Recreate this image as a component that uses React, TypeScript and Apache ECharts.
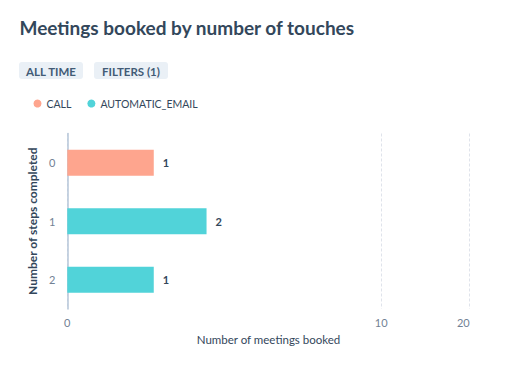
import React, { useEffect, useRef } from "react";
import * as echarts from "echarts";

// ---- data ----
const CATEGORIES = ["0", "1", "2"];
const CALL = [1, null, null];
const AUTOMATIC_EMAIL = [null, 2, 1];
const X_TICKS = [0, 10, 20];
const TITLE = "Meetings booked by number of touches";
const TAGS = ["ALL TIME", "FILTERS (1)"];

// the reference x axis is compressed (log-like): position ~ ln(1 + v / C)
const C = 1.15;
const toAxis = (v: number) => Math.log1p(v / C);
const fromAxis = (a: number) => Math.round(C * Math.expm1(a));

const FONT = "Lato, 'Open Sans', sans-serif";
const DARK = "#33475b";
const GRAY = "#728194";

export default function App() {
  const ref = useRef<HTMLDivElement>(null);
  useEffect(() => {
    if (!ref.current) return;
    const chart = echarts.init(ref.current, null, { renderer: "svg" });
    const mk = (arr: (number | null)[]) => arr.map((v) => (v == null ? "-" : toAxis(v)));
    const lbl = (arr: (number | null)[]) => ({
      show: true,
      position: "right",
      distance: 9,
      fontFamily: FONT,
      fontWeight: "bold",
      fontSize: 11,
      color: DARK,
      formatter: (p: any) => String(arr[p.dataIndex]),
    });
    const tickVals = X_TICKS.map(toAxis);
    const tag = (text: string, left: number, width: number) => ({
      type: "group",
      left,
      top: 62,
      children: [
        { type: "rect", shape: { x: 0, y: 0, width, height: 17, r: 3 }, style: { fill: "#eaf0f6" } },
        {
          type: "text",
          x: width / 2,
          y: 9,
          style: { text, align: "center", verticalAlign: "middle", font: `bold 11.5px ${FONT}`, fill: "#425b76" },
        },
      ],
    });
    chart.setOption({
      animation: false,
      textStyle: { fontFamily: FONT },
      title: {
        text: TITLE,
        left: 14.5,
        top: 12.5,
        textStyle: { fontFamily: FONT, fontSize: 19, fontWeight: "bold", color: DARK },
      },
      legend: {
        left: 28.5,
        top: 93,
        icon: "circle",
        itemWidth: 8,
        itemHeight: 8,
        itemGap: 16,
        textStyle: { fontFamily: FONT, fontSize: 10.5, color: DARK },
        data: ["CALL", "AUTOMATIC_EMAIL"],
      },
      graphic: [tag(TAGS[0], 19, 64), tag(TAGS[1], 94, 74)],
      grid: { left: 67.3, right: 47.3, top: 133.5, bottom: 69.1, containLabel: false },
      xAxis: {
        type: "value",
        min: 0,
        max: toAxis(X_TICKS[X_TICKS.length - 1]),
        name: "Number of meetings booked",
        nameLocation: "middle",
        nameGap: 25,
        nameTextStyle: { fontFamily: FONT, fontSize: 11.5, color: DARK },
        axisLine: { show: false },
        axisTick: { show: false, customValues: tickVals },
        axisLabel: {
          customValues: tickVals,
          formatter: (v: number) => String(fromAxis(v)),
          fontFamily: FONT,
          fontSize: 11,
          color: GRAY,
          margin: 8,
          alignMaxLabel: "right",
        },
        splitLine: { show: true, lineStyle: { color: "#dfe3eb", type: [3, 2], width: 1 } },
      },
      yAxis: {
        type: "category",
        inverse: true,
        data: CATEGORIES,
        name: "Number of steps completed",
        nameLocation: "middle",
        nameGap: 21,
        nameRotate: 90,
        nameTextStyle: { fontFamily: FONT, fontSize: 12, fontWeight: "bold", color: DARK },
        axisLine: { show: true, lineStyle: { color: "#b6c6d8", width: 1.5 } },
        axisTick: { show: false },
        axisLabel: { fontFamily: FONT, fontSize: 11, color: GRAY, margin: 12 },
        splitLine: { show: false },
      },
      series: [
        {
          name: "CALL",
          type: "bar",
          data: mk(CALL),
          barWidth: 26,
          barGap: "-100%",
          itemStyle: { color: "#fea58e" },
          label: lbl(CALL),
        },
        {
          name: "AUTOMATIC_EMAIL",
          type: "bar",
          data: mk(AUTOMATIC_EMAIL),
          barWidth: 26,
          barGap: "-100%",
          itemStyle: { color: "#51d3d9" },
          label: lbl(AUTOMATIC_EMAIL),
        },
      ],
    });
    return () => chart.dispose();
  }, []);
  return (
    <div
      ref={ref}
      style={{ position: "fixed", left: 0, top: 0, width: 517, height: 378, background: "#fff" }}
    />
  );
}
